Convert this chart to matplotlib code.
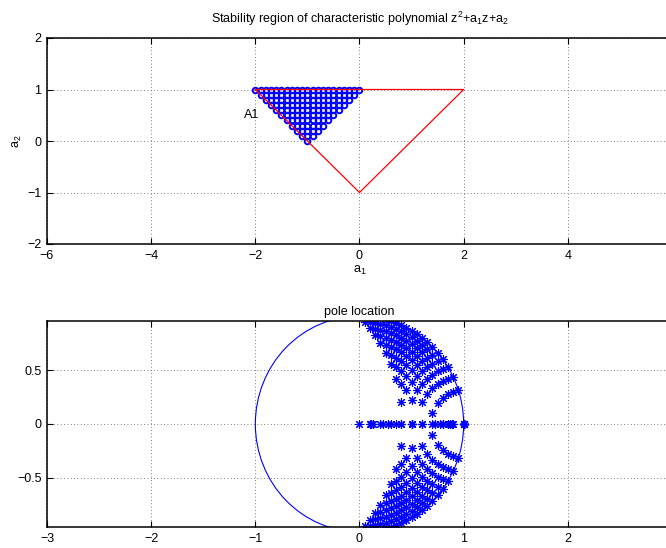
import numpy as np
import matplotlib
matplotlib.use('Agg')
import matplotlib.pyplot as plt
from matplotlib.patches import Circle
from matplotlib.ticker import FuncFormatter

plt.rcParams['font.family'] = ['Liberation Sans', 'DejaVu Sans']
plt.rcParams['mathtext.fontset'] = 'custom'
plt.rcParams['mathtext.rm'] = 'Liberation Sans'
plt.rcParams['mathtext.default'] = 'regular'
plt.rcParams['font.size'] = 9

# grid of coefficients sampled in region A1 (step 0.1)
a1_grid = [-2.0, -1.9, -1.8, -1.7, -1.6, -1.5, -1.4, -1.3, -1.2, -1.1, -1.0,
           -0.9, -0.8, -0.7, -0.6, -0.5, -0.4, -0.3, -0.2, -0.1, 0.0]
a2_grid = [0.0, 0.1, 0.2, 0.3, 0.4, 0.5, 0.6, 0.7, 0.8, 0.9, 1.0]

# stability triangle corners
tri_a1 = [-2, 2, 0, -2]
tri_a2 = [1, 1, -1, 1]

a1_pts = []
a2_pts = []
for a2 in a2_grid:
    for a1 in a1_grid:
        if a2 >= abs(a1 + 1) - 1e-9:
            a1_pts.append(a1)
            a2_pts.append(a2)

poles = []
for a1, a2 in zip(a1_pts, a2_pts):
    poles.extend(np.roots([1, a1, a2]))
poles = np.array(poles, dtype=complex)

fig = plt.figure(figsize=(6.66, 5.48), dpi=100)
ax1 = fig.add_axes([47/666, 1-244/548, 625/666, 206/548])
ax2 = fig.add_axes([47/666, 1-527/548, 625/666, 206/548])


def fmt(v, pos):
    s = ('%g' % v)
    return s.replace('-', '\u2212')


def style(ax):
    ax.grid(True, linestyle=(0, (1, 3)), color='#555555', linewidth=0.6)
    ax.tick_params(direction='in', top=True, right=True, length=4, width=0.8,
                   labelsize=9, pad=4)
    for s in ax.spines.values():
        s.set_linewidth(1.1)
    ax.set_axisbelow(True)
    ax.xaxis.set_major_formatter(FuncFormatter(fmt))
    ax.yaxis.set_major_formatter(FuncFormatter(fmt))


ax1.plot(a1_pts, a2_pts, 'o', color='blue', markersize=4.0,
         markerfacecolor='none', markeredgewidth=1.4)
ax1.plot(tri_a1, tri_a2, color='red', linewidth=0.9)
ax1.text(-2.22, 0.5, 'A1', fontsize=9, va='center', ha='left')
ax1.set_xlim(-6, 6)
ax1.set_ylim(-2, 2)
ax1.set_xticks([-6, -4, -2, 0, 2, 4, 6])
ax1.set_yticks([-2, -1, 0, 1, 2])
ax1.set_xlabel('a$_1$', labelpad=2)
ax1.set_ylabel('a$_2$', labelpad=2)
ax1.set_title('Stability region of characteristic polynomial z$^2$+a$_1$z+a$_2$',
              fontsize=9, pad=11, x=0.5)
style(ax1)

ax2.add_patch(Circle((0, 0), 1, fill=False, edgecolor='blue', linewidth=0.8))
ax2.plot(poles.real, poles.imag, marker=(8, 2, 0), linestyle='none',
         color='blue', markersize=6.5, markeredgewidth=0.8)
ax2.set_xlim(-3, 3)
ax2.set_ylim(-0.955, 0.955)
ax2.set_xticks([-3, -2, -1, 0, 1, 2, 3])
ax2.set_yticks([-0.5, 0, 0.5])
ax2.set_title('pole location', fontsize=9, pad=4)
style(ax2)

fig.savefig('out.png', dpi=100)
